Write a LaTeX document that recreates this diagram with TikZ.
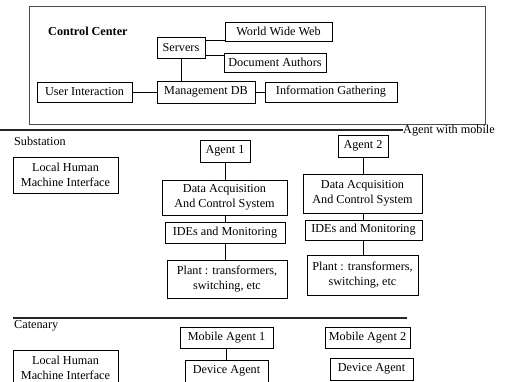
\documentclass[tikz,border=0pt]{standalone}
\usepackage{fontspec}
\setmainfont{Liberation Serif}
\begin{document}
\begin{tikzpicture}[x=1pt,y=-1pt,
  every node/.style={font=\fontsize{12.2}{14.5}\selectfont, inner sep=0pt},
  box/.style={draw, line width=0.8pt, align=center},
  link/.style={line width=0.8pt},
  divider/.style={line width=1.8pt, black!85},
  frame/.style={line width=0.6pt, black!70}]
\path[use as bounding box, clip] (0,0) rectangle (507,382);
\fill[white] (0,0) rectangle (507,382);

% control centre
\draw[frame] (29,6) rectangle (485,124);
\node[anchor=west, font=\fontsize{12.2}{14.5}\selectfont\bfseries] (cc) at (48,31) {Control Center};
\node[box, minimum width=48, minimum height=21] (srv) at (181,47.5) {Servers};
\node[box, minimum width=107, minimum height=19] (www) at (278.5,31.5) {World Wide Web};
\node[box, minimum width=102, minimum height=19] (doc) at (275,62.5) {Document Authors};
\node[box, minimum width=95, minimum height=20] (ui) at (84.5,92) {User Interaction};
\node[box, minimum width=98, minimum height=22] (mdb) at (206,92) {Management DB};
\node[box, minimum width=132, minimum height=20] (info) at (331,92) {Information Gathering};
\coordinate (s1) at (0,40);
\coordinate (s2) at (0,55);
\draw[link] (srv.east |- s1) -- (www.west |- s1);
\draw[link] (srv.east |- s2) -- (doc.west |- s2);
\draw[link] (srv.south) -- (srv.south |- mdb.north);
\draw[link] (ui.east) -- (mdb.west);
\draw[link] (mdb.east) -- (info.west);

% substation
\coordinate (d1a) at (0,130);
\node[anchor=base west] (mob) at (403,134) {Agent with mobile};
\draw[divider] (d1a) -- (mob.west |- d1a);
\node[anchor=west] (sub) at (14,141) {Substation};
\node[box, minimum width=105, minimum height=36] (lhmi) at (65.5,175) {Local Human\\Machine Interface};

\node[box, minimum width=50, minimum height=22] (ag1) at (225,151) {Agent 1};
\node[box, minimum width=125, minimum height=35] (daq1) at (224.5,197.5) {Data Acquisition\\And Control System};
\node[box, minimum width=120, minimum height=21] (ide1) at (225,232.5) {IDEs and Monitoring};
\node[box, minimum width=120, minimum height=38] (pl1) at (227,279) {Plant : transformers,\\switching, etc};
\draw[link] (ag1.south) -- (ag1.south |- daq1.north);
\draw[link] (ag1.south |- daq1.south) -- (ag1.south |- ide1.north);
\draw[link] (ag1.south |- ide1.south) -- (ag1.south |- pl1.north);

\node[box, minimum width=50, minimum height=22] (ag2) at (363,146) {Agent 2};
\node[box, minimum width=119, minimum height=39] (daq2) at (362.5,193.5) {Data Acquisition\\And Control System};
\node[box, minimum width=117, minimum height=20] (ide2) at (363.5,230) {IDEs and Monitoring};
\node[box, minimum width=111, minimum height=40] (pl2) at (362.5,275) {Plant : transformers,\\switching, etc};
\draw[link] (ag2.south) -- (ag2.south |- daq2.north);
\draw[link] (ag2.south |- daq2.south) -- (ag2.south |- ide2.north);
\draw[link] (ag2.south |- ide2.south) -- (ag2.south |- pl2.north);

% catenary
\coordinate (d2a) at (13,318);
\coordinate (d2b) at (407,318);
\draw[divider] (d2a) -- (d2b);
\node[anchor=west] (cat) at (14,326) {Catenary};
\node[box, minimum width=105, minimum height=36] (lhmi2) at (65.5,368) {Local Human\\Machine Interface};
\node[box, minimum width=93, minimum height=21] (ma1) at (226.5,337.5) {Mobile Agent 1};
\node[box, minimum width=83, minimum height=22] (dev1) at (226.5,371) {Device Agent};
\node[box, minimum width=85, minimum height=21] (ma2) at (367.5,337.5) {Mobile Agent 2};
\node[box, minimum width=83, minimum height=22] (dev2) at (371.5,369) {Device Agent};
\draw[link] (ma1.south) -- (dev1.north);
\end{tikzpicture}
\end{document}
